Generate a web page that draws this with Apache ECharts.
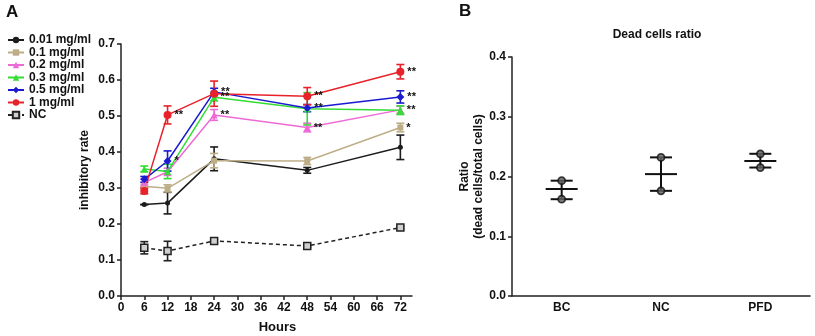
<!DOCTYPE html>
<html>
<head>
<meta charset="utf-8">
<script src="https://cdn.jsdelivr.net/npm/echarts@6/dist/echarts.min.js"></script>
<style>
  html, body { margin: 0; padding: 0; background: #fff; }
  #chart { width: 815px; height: 336px; }
</style>
</head>
<body>
<div id="chart"></div>
<script>
// panel A: inhibitory rate over time
const hours = [6, 12, 24, 48, 72];
const hourTicks = [0, 6, 12, 18, 24, 30, 36, 42, 48, 54, 60, 66, 72];
const rateTicks = [0, 0.1, 0.2, 0.3, 0.4, 0.5, 0.6, 0.7];

const c001 = [0.254, 0.258, 0.381, 0.349, 0.413];
const c001Err = [0, 0.03, 0.033, 0.008, 0.034];
const c01 = [0.305, 0.299, 0.376, 0.375, 0.468];
const c01Err = [0.005, 0.01, 0.02, 0.01, 0.012];
const c02 = [0.315, 0.345, 0.503, 0.468, 0.517];
const c02Err = [0.01, 0.01, 0.015, 0.012, 0.01];
const c03 = [0.353, 0.346, 0.552, 0.52, 0.516];
const c03Err = [0.008, 0.02, 0.01, 0.045, 0.012];
const c05 = [0.324, 0.375, 0.567, 0.522, 0.553];
const c05Err = [0.008, 0.028, 0.01, 0.01, 0.017];
const c1 = [0.292, 0.503, 0.562, 0.555, 0.623];
const c1Err = [0.008, 0.025, 0.035, 0.024, 0.02];
const nc = [0.134, 0.125, 0.153, 0.139, 0.19];
const ncErr = [0.017, 0.027, 0.005, 0.004, 0.004];

// significance marks next to points
const sig001 = ['', '', '', '', ''];
const sig01 = ['', '', '', '', '*'];
const sig02 = ['', '', '**', '**', ''];
const sig03 = ['', '', '**', '', '**'];
const sig05 = ['', '*', '**', '**', '**'];
const sig1 = ['', '**', '', '**', '**'];
const sigNC = ['', '', '', '', ''];

// panel B: dead cells ratio
const groups = ['BC', 'NC', 'PFD'];
const ratioHigh = [0.193, 0.232, 0.238];
const ratioLow = [0.162, 0.176, 0.215];
const ratioMean = [0.179, 0.204, 0.226];

const FONT = 'Liberation Sans, Arial, sans-serif';

const chart = echarts.init(document.getElementById('chart'));

const lineDefs = [
  { name: '0.01 mg/ml', data: c001, err: c001Err, sig: sig001, color: '#1c1c1c', symbol: 'circle', size: 5 },
  { name: '0.1 mg/ml', data: c01, err: c01Err, sig: sig01, color: '#bdae88', symbol: 'rect', size: 6 },
  { name: '0.2 mg/ml', data: c02, err: c02Err, sig: sig02, color: '#ee6ad6', symbol: 'triangle', size: 7 },
  { name: '0.3 mg/ml', data: c03, err: c03Err, sig: sig03, color: '#33dd33', symbol: 'triangle', size: 7 },
  { name: '0.5 mg/ml', data: c05, err: c05Err, sig: sig05, color: '#1a1ad0', symbol: 'diamond', size: 8 },
  { name: '1 mg/ml', data: c1, err: c1Err, sig: sig1, color: '#e8222a', symbol: 'circle', size: 8 },
  { name: 'NC', data: nc, err: ncErr, sig: sigNC, color: '#222', symbol: 'rect', size: 7, dashed: true }
];

function errRender(cap, color, width) {
  return function (params, api) {
    const lo = api.coord([api.value(0), api.value(1)]);
    const hi = api.coord([api.value(0), api.value(2)]);
    const style = { stroke: color, lineWidth: width };
    return {
      type: 'group',
      children: [
        { type: 'line', shape: { x1: lo[0], y1: lo[1], x2: hi[0], y2: hi[1] }, style: style },
        { type: 'line', shape: { x1: lo[0] - cap, y1: lo[1], x2: lo[0] + cap, y2: lo[1] }, style: style },
        { type: 'line', shape: { x1: hi[0] - cap, y1: hi[1], x2: hi[0] + cap, y2: hi[1] }, style: style }
      ]
    };
  };
}

const series = [];
lineDefs.forEach(function (d) {
  series.push({
    type: 'custom',
    name: d.name + ' err',
    xAxisIndex: 0,
    yAxisIndex: 0,
    renderItem: errRender(4, d.color, 1.6),
    data: hours.map(function (h, i) { return [h, d.data[i] - d.err[i], d.data[i] + d.err[i]]; }),
    z: 2
  });
});
lineDefs.forEach(function (d) {
  series.push({
    type: 'line',
    name: d.name,
    xAxisIndex: 0,
    yAxisIndex: 0,
    data: hours.map(function (h, i) { return [h, d.data[i]]; }),
    symbol: d.symbol,
    symbolSize: d.size,
    showAllSymbol: true,
    lineStyle: { color: d.color, width: 1.5, type: d.dashed ? [4, 3] : 'solid' },
    itemStyle: d.dashed
      ? { color: '#d0d0d0', borderColor: '#222', borderWidth: 1.5 }
      : { color: d.color },
    label: {
      show: true,
      position: 'right',
      distance: 3,
      color: '#111',
      fontFamily: FONT,
      fontWeight: 'bold',
      fontSize: 11,
      formatter: function (p) { return d.sig[p.dataIndex]; }
    },
    emphasis: { disabled: true },
    z: 3
  });
});

// panel B
series.push({
  type: 'custom',
  name: 'range',
  xAxisIndex: 1,
  yAxisIndex: 1,
  renderItem: errRender(11, '#111', 2),
  data: groups.map(function (g, i) { return [i, ratioLow[i], ratioHigh[i]]; }),
  z: 2
});
series.push({
  type: 'custom',
  name: 'mean',
  xAxisIndex: 1,
  yAxisIndex: 1,
  renderItem: function (params, api) {
    const p = api.coord([api.value(0), api.value(1)]);
    return {
      type: 'line',
      shape: { x1: p[0] - 16, y1: p[1], x2: p[0] + 16, y2: p[1] },
      style: { stroke: '#111', lineWidth: 2 }
    };
  },
  data: groups.map(function (g, i) { return [i, ratioMean[i]]; }),
  z: 2
});
series.push({
  type: 'scatter',
  name: 'points',
  xAxisIndex: 1,
  yAxisIndex: 1,
  symbol: 'circle',
  symbolSize: 7,
  itemStyle: { color: '#666', borderColor: '#111', borderWidth: 1.8 },
  data: groups.map(function (g, i) { return [i, ratioHigh[i]]; })
    .concat(groups.map(function (g, i) { return [i, ratioLow[i]]; })),
  z: 3
});

const axisText = { color: '#111', fontFamily: FONT, fontWeight: 'bold', fontSize: 12 };
const axisLineStyle = { lineStyle: { color: '#222', width: 1.5 } };

const option = {
  backgroundColor: '#fff',
  animation: false,
  textStyle: { fontFamily: FONT },
  graphic: [
    { type: 'text', left: 6, top: 4, style: { text: 'A', font: 'bold 17px ' + FONT, fill: '#111' } },
    { type: 'text', left: 459, top: 3, style: { text: 'B', font: 'bold 17px ' + FONT, fill: '#111' } }
  ],
  title: {
    text: 'Dead cells ratio',
    left: 652,
    top: 24,
    textAlign: 'center',
    textStyle: { fontFamily: FONT, fontWeight: 'bold', fontSize: 12, color: '#111' }
  },
  legend: {
    orient: 'vertical',
    left: 2,
    top: 29,
    itemWidth: 16,
    itemHeight: 8,
    itemGap: 0.5,
    data: lineDefs.map(function (d) { return d.name; }),
    textStyle: { fontFamily: FONT, fontWeight: 'bold', fontSize: 12, color: '#111', lineHeight: 12, padding: [0, 0, 0, 0] }
  },
  grid: [
    { left: 121, right: 403, top: 44, bottom: 40, outerBoundsMode: 'none' },
    { left: 512, right: 5, top: 57, bottom: 40, outerBoundsMode: 'none' }
  ],
  xAxis: [
    {
      type: 'value',
      gridIndex: 0,
      min: 0,
      max: 75,
      interval: 3,
      name: 'Hours',
      nameLocation: 'middle',
      nameGap: 25,
      nameTextStyle: { color: '#111', fontFamily: FONT, fontWeight: 'bold', fontSize: 13, padding: [0, 0, 0, 22] },
      splitLine: { show: false },
      axisLine: axisLineStyle,
      axisTick: { length: 4, customValues: hourTicks, lineStyle: { color: '#222', width: 1.5 } },
      axisLabel: Object.assign({ margin: 6, customValues: hourTicks }, axisText)
    },
    {
      type: 'category',
      gridIndex: 1,
      data: groups,
      boundaryGap: true,
      axisLine: axisLineStyle,
      axisTick: { alignWithLabel: true, length: 4, lineStyle: { color: '#222', width: 1.5 } },
      axisLabel: Object.assign({ margin: 6 }, axisText),
      splitLine: { show: false }
    }
  ],
  yAxis: [
    {
      type: 'value',
      gridIndex: 0,
      min: 0,
      max: 0.7,
      interval: 0.1,
      name: 'inhibitory rate',
      nameLocation: 'middle',
      nameGap: 30,
      nameTextStyle: { color: '#111', fontFamily: FONT, fontWeight: 'bold', fontSize: 12 },
      splitLine: { show: false },
      axisLine: { show: true, lineStyle: { color: '#222', width: 1.5 } },
      axisTick: { show: true, length: 4, customValues: rateTicks, lineStyle: { color: '#222', width: 1.5 } },
      axisLabel: Object.assign({ margin: 6, formatter: function (v) { return v.toFixed(1); } }, axisText)
    },
    {
      type: 'value',
      gridIndex: 1,
      min: 0,
      max: 0.4,
      interval: 0.1,
      name: 'Ratio\n(dead cells/total cells)',
      nameLocation: 'middle',
      nameGap: 22,
      nameTextStyle: { color: '#111', fontFamily: FONT, fontWeight: 'bold', fontSize: 12, lineHeight: 14 },
      splitLine: { show: false },
      axisLine: { show: true, lineStyle: { color: '#222', width: 1.5 } },
      axisTick: { show: true, length: 4, lineStyle: { color: '#222', width: 1.5 } },
      axisLabel: Object.assign({ margin: 6, formatter: function (v) { return v.toFixed(1); } }, axisText)
    }
  ],
  series: series
};

chart.setOption(option);
window.addEventListener('resize', chart.resize);
</script>
</body>
</html>
